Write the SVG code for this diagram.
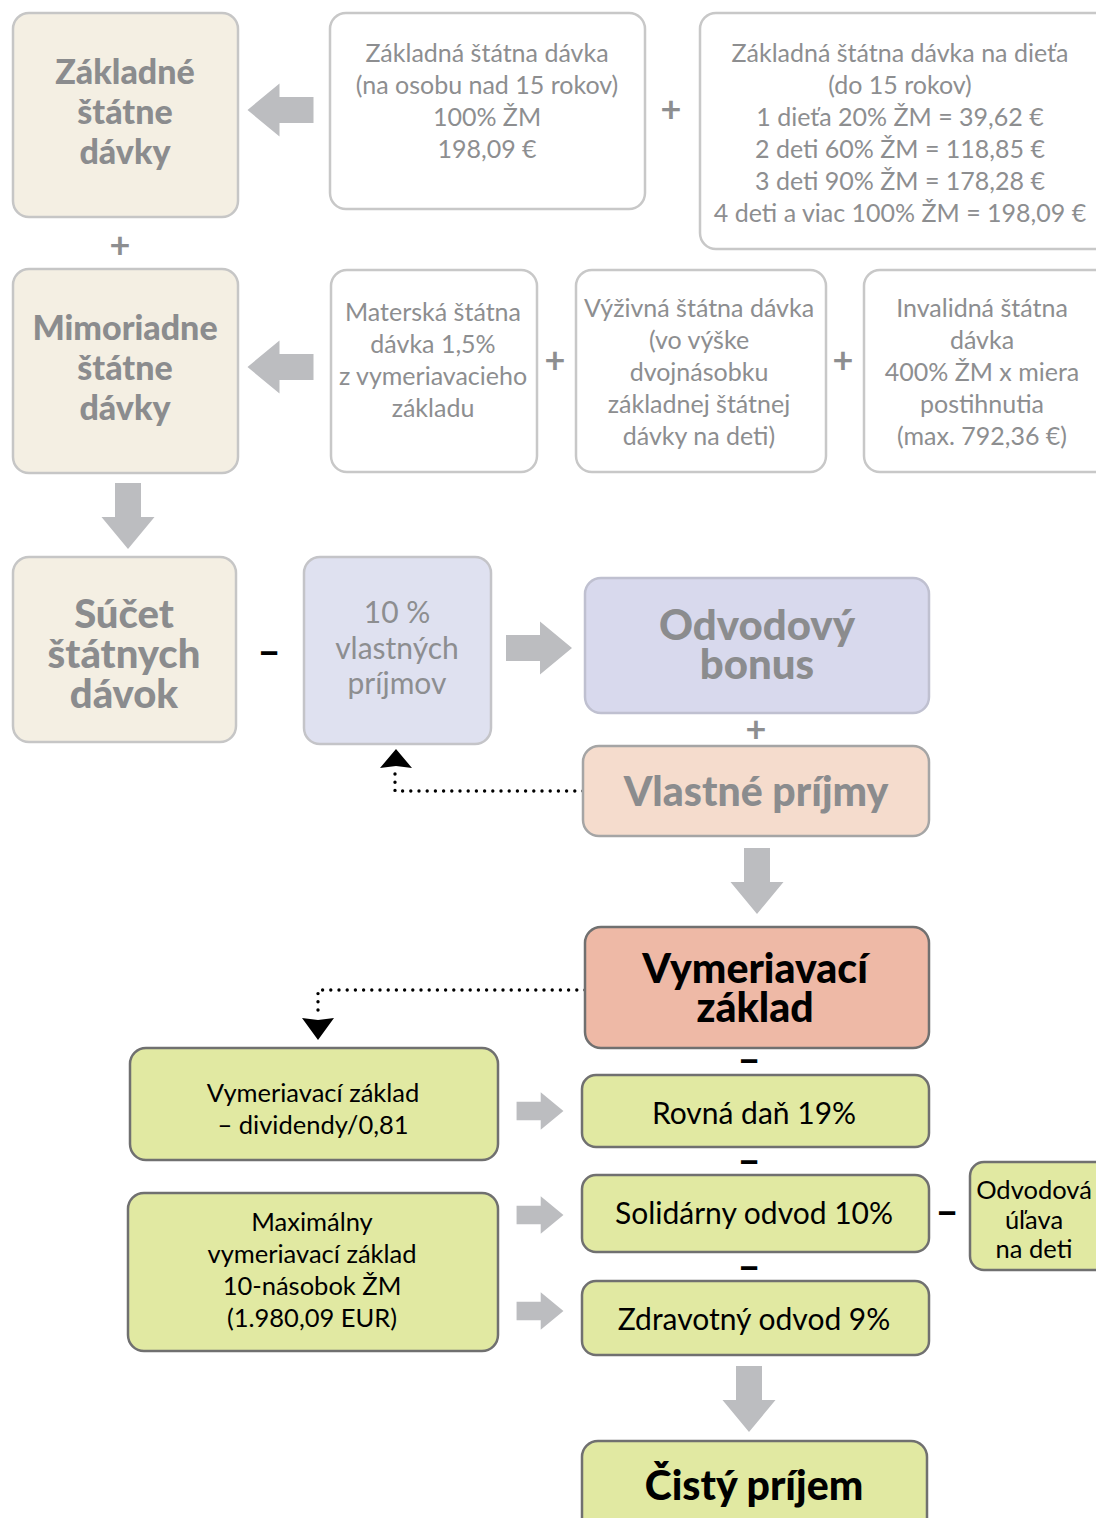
<svg xmlns="http://www.w3.org/2000/svg" width="1096" height="1518" viewBox="0 0 1096 1518">
<style>
.beige{fill:#f4efe3;stroke:#c6c6c6;stroke-width:2.5}
.white{fill:#ffffff;stroke:#c8c8c8;stroke-width:2.5}
.lav{fill:#dfe1f0;stroke:#c4c4c8;stroke-width:2.5}
.lav2{fill:#d8d9ed;stroke:#bfc0d0;stroke-width:2.5}
.peach{fill:#f5dccd;stroke:#a5a5a5;stroke-width:2.5}
.salmon{fill:#eeb9a6;stroke:#707070;stroke-width:2.5}
.green{fill:#e1e9a2;stroke:#707070;stroke-width:2.5}
text{font-family:Lato,"Liberation Sans",sans-serif;text-anchor:middle}
.gb{font-weight:900;fill:#8b8c8e}
.gt{fill:#8d8e90;font-size:25px}
.gt2{fill:#8d8e90;font-size:30px}
.bt{fill:#000;font-size:25.5px}
.bt2{fill:#000;font-size:30px}
.bb{fill:#000;font-weight:900}
.op{font-weight:bold;fill:#8d8e90;font-size:36px}
.mn{font-weight:900;fill:#000;font-size:40px}
.barrow{fill:#bcbdc0}
.dot{fill:none;stroke:#000;stroke-width:3.4;stroke-linecap:round;stroke-dasharray:0 8.2}
</style>
<defs>
<path id="ar" d="M-33,-13 H1 V-26.5 L33,0 L1,26.5 V13 H-33 Z"/>
</defs>

<g id="connectors">
<use href="#ar" class="barrow" transform="translate(280.5,110) rotate(180)"/>
<use href="#ar" class="barrow" transform="translate(280.5,367) rotate(180)"/>
<use href="#ar" class="barrow" transform="translate(128,516) rotate(90)"/>
<use href="#ar" class="barrow" transform="translate(539,648)"/>
<use href="#ar" class="barrow" transform="translate(757,881) rotate(90)"/>
<use href="#ar" class="barrow" transform="translate(749,1399) rotate(90)"/>
<use href="#ar" class="barrow" transform="translate(540,1111) scale(0.71)"/>
<use href="#ar" class="barrow" transform="translate(540,1215) scale(0.71)"/>
<use href="#ar" class="barrow" transform="translate(540,1311) scale(0.71)"/>
<path class="dot" d="M583,791 H395 V772"/>
<polygon points="396,749 412,768 396,766 380,768" fill="#000"/>
<path class="dot" d="M585,990 H318 V1018"/>
<polygon points="302,1018 318,1020 334,1018 318,1040" fill="#000"/>
<text class="op" x="120" y="258">+</text>
<text class="op" x="671" y="122">+</text>
<text class="op" x="555" y="373">+</text>
<text class="op" x="843" y="373">+</text>
<text class="op" x="756" y="742">+</text>
<text class="mn" x="269" y="665">–</text>
<text class="mn" x="749" y="1073">–</text>
<text class="mn" x="749" y="1174">–</text>
<text class="mn" x="749" y="1280">–</text>
<text class="mn" x="947" y="1225">–</text>
</g>

<g id="zakladne-davky">
<rect class="beige" x="13" y="13" width="225" height="204" rx="16"/>
<text class="gb" font-size="34" x="125" y="84">Základné</text>
<text class="gb" font-size="34" x="125" y="124">štátne</text>
<text class="gb" font-size="34" x="125" y="164">dávky</text>
</g>

<g id="zakladna-osoba">
<rect class="white" x="330" y="13" width="315" height="196" rx="16"/>
<text class="gt" x="487" y="62">Základná štátna dávka</text>
<text class="gt" x="487" y="94">(na osobu nad 15 rokov)</text>
<text class="gt" x="487" y="126">100% ŽM</text>
<text class="gt" x="487" y="158">198,09 €</text>
</g>

<g id="zakladna-dieta">
<rect class="white" x="700" y="13" width="410" height="236" rx="16"/>
<text class="gt" x="900" y="62">Základná štátna dávka na dieťa</text>
<text class="gt" x="900" y="94">(do 15 rokov)</text>
<text class="gt" x="900" y="126">1 dieťa 20% ŽM = 39,62 €</text>
<text class="gt" x="900" y="158">2 deti 60% ŽM = 118,85 €</text>
<text class="gt" x="900" y="190">3 deti 90% ŽM = 178,28 €</text>
<text class="gt" x="900" y="222">4 deti a viac 100% ŽM = 198,09 €</text>
</g>

<g id="mimoriadne-davky">
<rect class="beige" x="13" y="269" width="225" height="204" rx="16"/>
<text class="gb" font-size="34" x="125" y="340">Mimoriadne</text>
<text class="gb" font-size="34" x="125" y="380">štátne</text>
<text class="gb" font-size="34" x="125" y="420">dávky</text>
</g>

<g id="materska">
<rect class="white" x="331" y="270" width="206" height="202" rx="16"/>
<text class="gt" x="433" y="321">Materská  štátna</text>
<text class="gt" x="433" y="353">dávka 1,5%</text>
<text class="gt" x="433" y="385">z vymeriavacieho</text>
<text class="gt" x="433" y="417">základu</text>
</g>

<g id="vyzivna">
<rect class="white" x="576" y="270" width="250" height="202" rx="16"/>
<text class="gt" x="699" y="317">Výživná štátna dávka</text>
<text class="gt" x="699" y="349">(vo výške</text>
<text class="gt" x="699" y="381">dvojnásobku</text>
<text class="gt" x="699" y="413">základnej štátnej</text>
<text class="gt" x="699" y="445">dávky na deti)</text>
</g>

<g id="invalidna">
<rect class="white" x="864" y="270" width="246" height="202" rx="16"/>
<text class="gt" x="982" y="317">Invalidná štátna</text>
<text class="gt" x="982" y="349">dávka</text>
<text class="gt" x="982" y="381">400% ŽM x miera</text>
<text class="gt" x="982" y="413">postihnutia</text>
<text class="gt" x="982" y="445">(max. 792,36 €)</text>
</g>

<g id="sucet">
<rect class="beige" x="13" y="557" width="223" height="185" rx="16"/>
<text class="gb" font-size="40" x="124" y="628">Súčet</text>
<text class="gb" font-size="40" x="124" y="668">štátnych</text>
<text class="gb" font-size="40" x="124" y="708">dávok</text>
</g>

<g id="desat-percent">
<rect class="lav" x="304" y="557" width="187" height="187" rx="16"/>
<text class="gt2" x="397" y="623">10 %</text>
<text class="gt2" x="397" y="659">vlastných</text>
<text class="gt2" x="397" y="694">príjmov</text>
</g>

<g id="odvodovy-bonus">
<rect class="lav2" x="585" y="578" width="344" height="135" rx="16"/>
<text class="gb" font-size="42" x="757" y="640">Odvodový</text>
<text class="gb" font-size="42" x="757" y="679">bonus</text>
</g>

<g id="vlastne-prijmy">
<rect class="peach" x="583" y="746" width="346" height="90" rx="16"/>
<text class="gb" font-size="41" x="756" y="806">Vlastné príjmy</text>
</g>

<g id="vymeriavaci-zaklad">
<rect class="salmon" x="585" y="927" width="344" height="121" rx="16"/>
<text class="bb" font-size="41" x="755" y="983">Vymeriavací</text>
<text class="bb" font-size="41" x="755" y="1022">základ</text>
</g>

<g id="vz-dividendy">
<rect class="green" x="130" y="1048" width="368" height="112" rx="16"/>
<text class="bt" x="313" y="1102">Vymeriavací základ</text>
<text class="bt" x="313" y="1134">– dividendy/0,81</text>
</g>

<g id="max-vz">
<rect class="green" x="128" y="1193" width="370" height="158" rx="16"/>
<text class="bt" x="312" y="1231">Maximálny</text>
<text class="bt" x="312" y="1263">vymeriavací základ</text>
<text class="bt" x="312" y="1295">10-násobok ŽM</text>
<text class="bt" x="312" y="1327">(1.980,09 EUR)</text>
</g>

<g id="rovna-dan">
<rect class="green" x="582" y="1075" width="347" height="72" rx="14"/>
<text class="bt2" x="754" y="1124">Rovná daň 19%</text>
</g>

<g id="solidarny-odvod">
<rect class="green" x="582" y="1175" width="347" height="77" rx="14"/>
<text class="bt2" x="754" y="1224">Solidárny odvod 10%</text>
</g>

<g id="odvodova-ulava">
<rect class="green" x="970" y="1162" width="140" height="108" rx="14"/>
<text class="bt" x="1034" y="1199">Odvodová</text>
<text class="bt" x="1034" y="1229">úľava</text>
<text class="bt" x="1034" y="1258">na deti</text>
</g>

<g id="zdravotny-odvod">
<rect class="green" x="582" y="1281" width="347" height="74" rx="14"/>
<text class="bt2" x="754" y="1330">Zdravotný odvod 9%</text>
</g>

<g id="cisty-prijem">
<rect class="green" x="582" y="1441" width="345" height="100" rx="16"/>
<text class="bb" font-size="41" x="754" y="1500">Čistý príjem</text>
</g>
</svg>
